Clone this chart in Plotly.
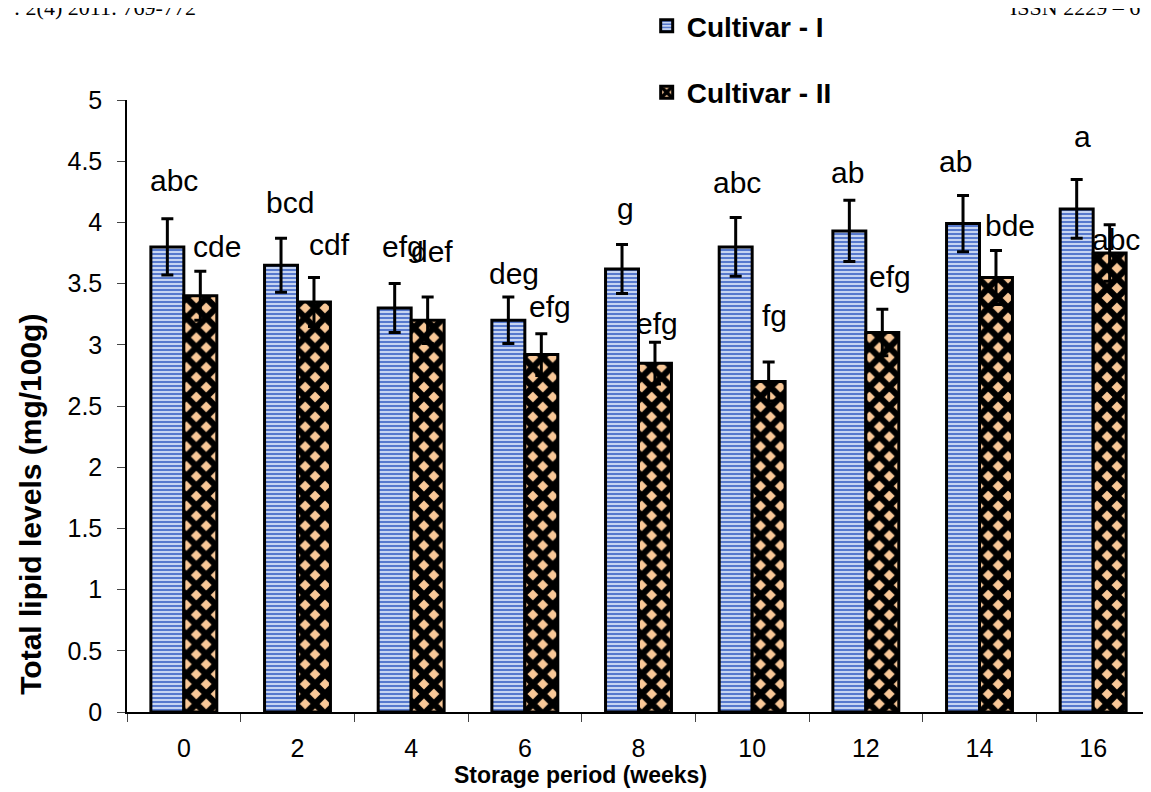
import plotly.graph_objects as go

# ---------------- data ----------------
weeks = ["0", "2", "4", "6", "8", "10", "12", "14", "16"]
cultivar_1 = [3.80, 3.65, 3.30, 3.20, 3.62, 3.80, 3.93, 3.99, 4.11]
cultivar_1_err = [0.23, 0.22, 0.20, 0.19, 0.20, 0.24, 0.25, 0.23, 0.24]
cultivar_2 = [3.40, 3.35, 3.20, 2.92, 2.85, 2.70, 3.10, 3.55, 3.75]
cultivar_2_err = [0.20, 0.20, 0.19, 0.17, 0.17, 0.16, 0.19, 0.22, 0.23]
letters_1 = ["abc", "bcd", "efg", "deg", "g", "abc", "ab", "ab", "a"]
letters_2 = ["cde", "cdf", "def", "efg", "efg", "fg", "efg", "bde", "abc"]
series_names = ["Cultivar - I", "Cultivar - II"]
y_ticks = [0, 0.5, 1, 1.5, 2, 2.5, 3, 3.5, 4, 4.5, 5]

# ---------------- label placement (pixel shifts) ----------------
dx_1 = [-10, -8, -8, -11, -13, -15, -18, -24, -11]
dy_1 = [38, 36, 37, 24, 36, 35, 28, 34, 43]
dx_2 = [33, 32, 21, 25, 18, 22, 24, 30, 23]
dy_2 = [25, 33, 46, 27, 19, 46, 33, 25, -15]

FONT = "Liberation Sans, Arial, sans-serif"

fig = go.Figure()
fig.add_trace(go.Bar(
    x=weeks, y=cultivar_1, name=series_names[0], legendgroup="a",
    marker=dict(color="#a9bdea",
                line=dict(color="black", width=3),
                pattern=dict(shape="-", fgcolor="#4a6fc9", bgcolor="#c6d4f2",
                             size=4, solidity=0.45, fgopacity=1)),
    error_y=dict(type="data", array=cultivar_1_err, color="black",
                 thickness=3, width=6),
))
fig.add_trace(go.Bar(
    x=weeks, y=cultivar_2, name=series_names[1], legendgroup="b",
    marker=dict(color="#f9c898",
                line=dict(color="black", width=3),
                pattern=dict(shape="x", fgcolor="black", bgcolor="#f9c898",
                             size=14, solidity=0.7, fgopacity=1)),
    error_y=dict(type="data", array=cultivar_2_err, color="black",
                 thickness=3, width=6),
))

annotations = []
for i, w in enumerate(weeks):
    annotations.append(dict(
        x=i, y=cultivar_1[i] + cultivar_1_err[i], xref="x", yref="y",
        xanchor="center", yanchor="middle",
        text=letters_1[i], showarrow=False, xshift=dx_1[i], yshift=dy_1[i],
        font=dict(family=FONT, size=30, color="black")))
    annotations.append(dict(
        x=i, y=cultivar_2[i] + cultivar_2_err[i], xref="x", yref="y",
        xanchor="center", yanchor="middle",
        text=letters_2[i], showarrow=False, xshift=dx_2[i], yshift=dy_2[i],
        font=dict(family=FONT, size=30, color="black")))

# axis titles (placed as in the reference)
annotations.append(dict(
    x=0.443, y=-0.103, xref="paper", yref="paper", showarrow=False,
    xanchor="center", yanchor="middle",
    text="<b>Storage period (weeks)</b>",
    font=dict(family=FONT, size=23, color="black")))
annotations.append(dict(
    x=-0.094, y=0.34, xref="paper", yref="paper", showarrow=False,
    xanchor="center", yanchor="middle",
    text="<b>Total lipid levels (mg/100g)</b>", textangle=-90,
    font=dict(family=FONT, size=30, color="black")))
# page header fragments (partly cut at the top edge, as in the source page)
annotations.append(dict(
    x=0.0694, y=1.151, xref="paper", yref="paper", showarrow=False,
    xanchor="right", yanchor="middle", text=": 2(4) 2011: 769-772",
    font=dict(family="Liberation Serif, Times New Roman, serif", size=22, color="black")))
annotations.append(dict(
    x=0.861, y=1.151, xref="paper", yref="paper", showarrow=False,
    xanchor="left", yanchor="middle", text="ISSN 2229 – 6",
    font=dict(family="Liberation Serif, Times New Roman, serif", size=22, color="black")))

fig.update_layout(
    width=1143, height=784,
    margin=dict(l=119, r=1, t=92, b=80, autoexpand=False),
    paper_bgcolor="white", plot_bgcolor="white",
    barmode="group", bargap=0.42, bargroupgap=0,
    font=dict(family=FONT, color="black"),
    showlegend=True,
    legend=dict(x=0.508, y=1.1615, xanchor="left", yanchor="top",
                font=dict(family=FONT, size=28, color="black", weight="bold"),
                traceorder="grouped", tracegroupgap=27,
                bgcolor="rgba(0,0,0,0)"),
    annotations=annotations,
)
fig.update_xaxes(
    type="category", range=[-0.5, len(weeks) - 0.5],
    showline=True, linecolor="black", linewidth=1.5,
    ticks="outside", tickson="boundaries", ticklen=8, tickcolor="#444",
    tickwidth=1, tickfont=dict(family=FONT, size=25, color="black"),
    ticklabelstandoff=13, showgrid=False, zeroline=False,
)
fig.update_yaxes(
    range=[0, 5], tickvals=y_ticks, ticktext=[f"{v:g}" for v in y_ticks],
    showline=True, linecolor="black", linewidth=1.5,
    ticks="outside", ticklen=8, tickcolor="#444", tickwidth=1,
    tickfont=dict(family=FONT, size=25, color="black"),
    ticklabelstandoff=10, showgrid=False, zeroline=False,
)

fig.write_html("out.html")
